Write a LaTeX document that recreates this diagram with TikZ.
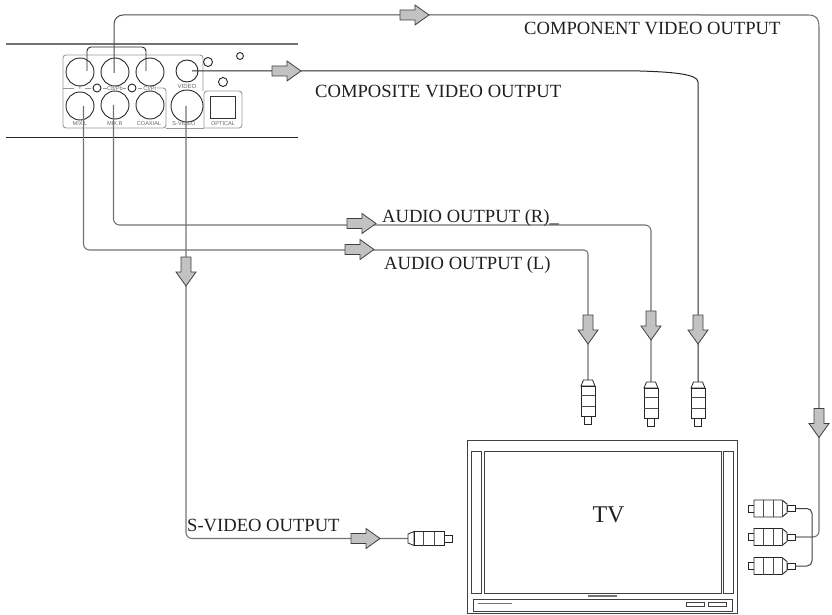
\documentclass[tikz,border=0pt]{standalone}
\usepackage{fontspec}
\setmainfont{Liberation Serif}
\setsansfont{Liberation Sans}
\definecolor{wire}{gray}{0.45}
\definecolor{arrowfill}{gray}{0.76}
\definecolor{panel}{gray}{0.6}
\definecolor{outl}{gray}{0.25}
\tikzset{
  x=1pt,y=-1pt,
  wireg/.style={draw=wire,line width=1.1pt,rounded corners=6pt},
  jack/.style={draw=black!85,line width=0.9pt},
  panelline/.style={draw=panel,line width=0.9pt,rounded corners=3pt},
  tinylabel/.style={font=\sffamily\fontsize{5.6}{6}\selectfont,text=black!60,inner sep=0pt},
  outlabel/.style={font=\fontsize{18.6}{20}\selectfont,text=black!88,inner sep=0pt,anchor=base west},
  tvline/.style={draw=black!75,line width=0.9pt},
  blockarrow/.pic={
    \draw[fill=arrowfill,draw=outl,line width=0.8pt,line join=miter]
      (-15,-5)--(0,-5)--(0,-10)--(14,0)--(0,10)--(0,5)--(-15,5)--cycle;
  },
  plugshape/.pic={
    \draw[fill=white,draw=black!85,line width=0.8pt]
      (-3.5,35)--(3.5,35)--(3.5,44)--(-3.5,44)--cycle;
    \draw[fill=white,draw=black!85,line width=0.8pt]
      (-4.5,0)--(4.5,0)--(7,6)--(-7,6)--cycle;
    \draw[fill=white,draw=black!85,line width=0.9pt]
      (-7,6)--(7,6)--(7,36)--(-7,36)--cycle;
    \draw[draw=black!70,line width=0.8pt] (-7,15.5)--(7,15.5) (-7,26)--(7,26);
  },
  bigplug/.pic={
    \draw[fill=white,draw=black!85,line width=0.8pt]
      (-39,-3.5)--(-33,-3.5)--(-33,3.5)--(-39,3.5)--cycle;
    \draw[fill=white,draw=black!85,line width=0.9pt]
      (-33,-8.5)--(-5,-8.5)--(0,-4.5)--(0,4.5)--(-5,8.5)--(-33,8.5)--cycle;
    \draw[draw=black!70,line width=0.8pt] (-24,-8.5)--(-24,8.5) (-14,-8.5)--(-14,8.5) (-5,-8.5)--(-5,8.5);
  },
  neckbox/.style={draw=black!85,fill=white,line width=0.8pt,minimum width=8pt,minimum height=6pt,inner sep=0pt}
}
\begin{document}
\begin{tikzpicture}
\useasboundingbox (0,0) rectangle (832,615);
% device
\coordinate (devTL) at (6,44); \coordinate (devTR) at (298,44);
\coordinate (devBL) at (6,137); \coordinate (devBR) at (298,137);
\draw[draw=wire,line width=1.6pt] (devTL)--(devTR);
\draw[draw=black!85,line width=0.9pt] (devBL)--(devBR);
% panel outlines
\draw[panelline] (63,88)--(63,55)--(203,55)--(203,91);
\draw[panelline] (63,88)--(63,128)--(166,128)--(166,88)--(157,88);
\draw[panelline] (166,128)--(204,128);
\draw[panelline] (204,128)--(204,91)--(242,91)--(242,128)--(204,128);
\draw[panelline,rounded corners=0pt] (63,88)--(74,88) (85,88)--(91,88) (103,88)--(107,88) (123,88)--(126,88) (138,88)--(142,88);
\node[draw=black!80,line width=0.9pt,minimum width=25pt,minimum height=22pt,inner sep=0pt] (opt) at (222.5,107) {};
% jacks
\node[jack,circle,minimum size=28pt,inner sep=0pt] (jY) at (80,72) {};
\node[jack,circle,minimum size=28pt,inner sep=0pt] (jCb) at (115,72) {};
\node[jack,circle,minimum size=28pt,inner sep=0pt] (jCr) at (150,72) {};
\node[jack,circle,minimum size=22pt,inner sep=0pt] (jV) at (187,71) {};
\node[jack,circle,minimum size=28pt,inner sep=0pt] (jL) at (80,106) {};
\node[jack,circle,minimum size=28pt,inner sep=0pt] (jR) at (115,105) {};
\node[jack,circle,minimum size=28pt,inner sep=0pt] (jC) at (150,105) {};
\node[jack,circle,minimum size=32pt,inner sep=0pt] (jS) at (187,106) {};
\node[jack,circle,minimum size=9pt,inner sep=0pt] (s1) at (208,62) {};
\node[jack,circle,minimum size=7pt,inner sep=0pt] (s2) at (240,56) {};
\node[jack,circle,minimum size=9pt,inner sep=0pt] (s3) at (223,82) {};
\node[jack,circle,minimum size=8pt,inner sep=0pt] (s4) at (97,88) {};
\node[jack,circle,minimum size=8pt,inner sep=0pt] (s5) at (132,88) {};
% tiny labels
\node[tinylabel] (lY) at (80,88) {Y};
\node[tinylabel] (lCb) at (115,88) {Cb/Pb};
\node[tinylabel] (lCr) at (150,88) {Cr/Pr};
\node[tinylabel,font=\sffamily\fontsize{6}{6}\selectfont] (lV) at (187,86) {VIDEO};
\node[tinylabel] (lL) at (80,124) {MIX.L};
\node[tinylabel] (lR) at (115,124) {MIX.R};
\node[tinylabel] (lC) at (149,124) {COAXIAL};
\node[tinylabel] (lS) at (184,124) {S-VIDEO};
\node[tinylabel] (lO) at (223,124) {OPTICAL};
% way points
\coordinate (pY) at (87,71); \coordinate (pCr) at (146,71);
\coordinate (pCb) at (114,73); \coordinate (pV) at (192,71);
\coordinate (pL) at (83.5,106); \coordinate (pR) at (113.5,105); \coordinate (pS) at (186,106);
\coordinate (plugL) at (588,380); \coordinate (plugM) at (651,382); \coordinate (plugV) at (698,382);
\coordinate (plugS) at (408,538.5);
\coordinate (plugA) at (787,508.5); \coordinate (plugB) at (787,537); \coordinate (plugC) at (787,566);
% wires
\draw[jack,rounded corners=4pt] (pY)--(87,47)--(146,47)--(pCr);
\draw[draw=black!70,line width=1pt,rounded corners=9pt] (pCb)--(114,15)--(700,15);
\draw[draw=wire,line width=1.1pt] (700,15)--(808,15) .. controls (816,15) and (819,18) .. (819,28);
\draw[wireg] (819,28)--(819,537)--(plugB);
\draw[draw=black!85,line width=1pt] (pV)--(640,71) .. controls (672,72) and (698,74) .. (698,82)--(plugV);
\draw[wireg] (pR)--(113.5,225)--(651,225)--(plugM);
\draw[wireg,rounded corners=4pt] (300,250)--(588,250)--(plugL);
\draw[wireg] (pL)--(83.5,250)--(300,250);
\draw[wireg] (pS)--(186,538.5)--(plugS);
\draw[draw=black!75,line width=1pt,rounded corners=5pt] (plugA)--(812,508.5)--(812,566)--(plugC);
% block arrows
\pic at (415,15) {blockarrow};
\pic at (287,71) {blockarrow};
\pic at (362,223.5) {blockarrow};
\pic at (360,249.5) {blockarrow};
\pic[rotate=-90] at (186,272) {blockarrow};
\pic at (366,538.5) {blockarrow};
\pic[rotate=-90] at (588,330) {blockarrow};
\pic[rotate=-90] at (651,326) {blockarrow};
\pic[rotate=-90] at (698,330) {blockarrow};
\pic[rotate=-90] at (819,423.5) {blockarrow};
% plugs
\pic at (plugL) {plugshape};
\pic at (plugM) {plugshape};
\pic at (plugV) {plugshape};
\pic[rotate=90] at (plugS) {plugshape};
\node[neckbox] (nA) at (791,508.5) {};
\node[neckbox] (nB) at (791,537) {};
\node[neckbox] (nC) at (791,566) {};
\pic at (plugA) {bigplug};
\pic at (plugB) {bigplug};
\pic at (plugC) {bigplug};
% labels
\node[outlabel] (tComp) at (524,35) {COMPONENT VIDEO OUTPUT};
\node[outlabel] (tCompo) at (315,98) {COMPOSITE VIDEO OUTPUT};
\node[outlabel] (tR) at (382,222.7) {AUDIO OUTPUT (R)\_};
\node[outlabel] (tL) at (384,269) {AUDIO OUTPUT (L)};
\node[outlabel] (tS) at (187,531.5) {S-VIDEO OUTPUT};
% TV
\node[tvline,minimum width=270pt,minimum height=173pt,inner sep=0pt] (tv) at (602,526.5) {};
\node[tvline,minimum width=237pt,minimum height=142pt,inner sep=0pt] (screen) at (602.5,522) {};
\node[tvline,minimum width=10pt,minimum height=142pt,inner sep=0pt] (sl) at (476.5,522) {};
\node[tvline,minimum width=10pt,minimum height=142pt,inner sep=0pt] (sr) at (728,522) {};
\node[tvline,minimum width=259pt,minimum height=12pt,inner sep=0pt] (base) at (602.5,605) {};
\node[tvline,minimum width=18pt,minimum height=4pt,inner sep=0pt] (b1) at (695,604) {};
\node[tvline,minimum width=18pt,minimum height=4pt,inner sep=0pt] (b2) at (717.5,604) {};
\draw[draw=wire,line width=1.2pt] (588,596)--(617,596);
\draw[draw=wire,line width=1pt] (478,603)--(512,603);
\node[font=\fontsize{24}{26}\selectfont,text=black!88,inner sep=0pt,anchor=base] (tvl) at (608.5,522.7) {TV};
\end{tikzpicture}
\end{document}
